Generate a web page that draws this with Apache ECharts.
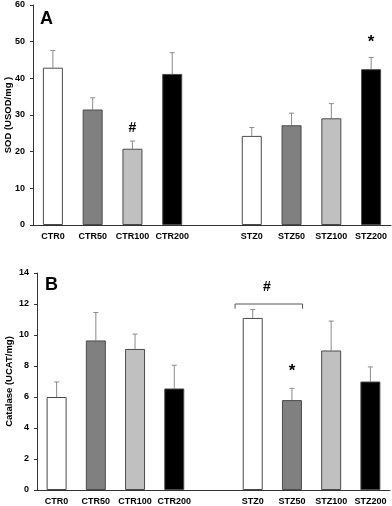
<!DOCTYPE html>
<html>
<head>
<meta charset="utf-8">
<script src="https://cdn.jsdelivr.net/npm/echarts@6/dist/echarts.min.js"></script>
<style>
  html, body { margin: 0; padding: 0; background: #fff; }
  #chart { width: 392px; height: 506px; }
</style>
</head>
<body>
<div id="chart"></div>
<script>
// groups (empty slot separates CTR and STZ)
const groups = ['CTR0', 'CTR50', 'CTR100', 'CTR200', '', 'STZ0', 'STZ50', 'STZ100', 'STZ200'];
const barColors = ['#ffffff', '#808080', '#c0c0c0', '#000000', null, '#ffffff', '#808080', '#c0c0c0', '#000000'];

// panel A: SOD (USOD/mg)
const sodMean = [42.9, 31.5, 20.8, 41.2, null, 24.3, 27.2, 29.1, 42.5];
const sodSd = [4.7, 3.2, 2.1, 5.8, null, 2.3, 3.3, 4.0, 3.2];
const sodTicks = { min: 0, max: 60, interval: 10 };
const sodMarks = [['CTR100', 26.3, '#'], ['STZ200', 49.9, '*']];

// panel B: Catalase (UCAT/mg)
const catMean = [6.0, 9.65, 9.1, 6.55, null, 11.1, 5.8, 9.0, 7.0];
const catSd = [0.97, 1.8, 0.96, 1.5, null, 0.55, 0.76, 1.9, 0.94];
const catTicks = { min: 0, max: 14, interval: 2 };
const catMarks = [['STZ50', 7.65, '*']];
// bracket: from group, to group, top value, end value, label, label value
const catBracket = [['STZ0', 'STZ50', 12.0, 11.7, '#', 13.1]];

const font = 'Arial, "Liberation Sans", sans-serif';

const myChart = echarts.init(document.getElementById('chart'), null, { renderer: 'canvas' });

function barData(vals) {
    return vals.map((v, i) => v == null ? null : {
        value: v,
        itemStyle: { color: barColors[i] }
    });
}

function errData(mean, sd) {
    return mean.map((v, i) => v == null ? null : [i, v, v + sd[i]]);
}

// upper error bar only
function renderErr(params, api) {
    const base = api.coord([api.value(0), api.value(1)]);
    const top = api.coord([api.value(0), api.value(2)]);
    const c = 2.5;
    return {
        type: 'group',
        children: [
            { type: 'line', shape: { x1: base[0], y1: base[1], x2: top[0], y2: top[1] }, style: { stroke: '#8a8a8a', lineWidth: 1 } },
            { type: 'line', shape: { x1: top[0] - c, y1: top[1], x2: top[0] + c, y2: top[1] }, style: { stroke: '#8a8a8a', lineWidth: 1 } }
        ]
    };
}

function markText(txt, x, y) {
    return {
        type: 'text', x: x, y: y,
        style: {
            text: txt, fill: '#000',
            font: 'bold ' + (txt === '*' ? 17 : 14) + 'px ' + font,
            align: 'center', verticalAlign: 'middle'
        }
    };
}

function renderMark(params, api) {
    const p = api.coord([api.value(0), api.value(1)]);
    return markText(api.value(2), p[0], p[1]);
}

function renderBracket(params, api) {
    const b = catBracket[params.dataIndex];
    const i0 = groups.indexOf(b[0]), i1 = groups.indexOf(b[1]);
    const a = api.coord([i0, b[2]]);
    const e = api.coord([i1, b[3]]);
    const t = api.coord([i0, b[5]]);
    const band = api.size([1, 0])[0];
    const x1 = a[0] - band * 0.45, x2 = e[0] + band * 0.27;
    return {
        type: 'group',
        children: [
            {
                type: 'polyline',
                shape: { points: [[x1, e[1]], [x1, a[1]], [x2, a[1]], [x2, e[1]]] },
                style: { stroke: '#555', lineWidth: 1, fill: null }
            },
            markText(b[4], (x1 + x2) / 2 - 2, t[1])
        ]
    };
}

function xAxisFor(gi) {
    return {
        type: 'category', gridIndex: gi, data: groups,
        axisLine: { lineStyle: { color: '#333', width: 1 } },
        axisTick: { show: false },
        axisLabel: { interval: 0, color: '#000', fontWeight: 'bold', fontSize: 9, fontFamily: font, margin: 7 }
    };
}

function yAxisFor(gi, ticks, name, gap) {
    return {
        type: 'value', gridIndex: gi,
        min: ticks.min, max: ticks.max, interval: ticks.interval,
        name: name, nameLocation: 'middle', nameGap: gap, nameRotate: 90,
        nameMoveOverlap: false,
        nameTextStyle: { color: '#000', fontWeight: 'bold', fontSize: 9.5, fontFamily: font },
        axisLine: { show: true, lineStyle: { color: '#333', width: 1 } },
        axisTick: { show: true, length: 3, lineStyle: { color: '#333' } },
        splitLine: { show: false },
        axisLabel: { color: '#000', fontWeight: 'bold', fontSize: 9, fontFamily: font, margin: 8 }
    };
}

const option = {
    backgroundColor: '#fff',
    animation: false,
    grid: [
        { left: 33, right: 1, top: 5, height: 220, outerBoundsMode: 'none', containLabel: false },
        { left: 37, right: 2, top: 273, height: 217, outerBoundsMode: 'none', containLabel: false }
    ],
    xAxis: [xAxisFor(0), xAxisFor(1)],
    yAxis: [
        yAxisFor(0, sodTicks, 'SOD (USOD/mg )', 20),
        yAxisFor(1, catTicks, 'Catalase (UCAT/mg)', 23)
    ],
    graphic: [
        { type: 'text', left: 40, top: 10, style: { text: 'A', font: 'bold 18px ' + font, fill: '#000' } },
        { type: 'text', left: 45, top: 276, style: { text: 'B', font: 'bold 18px ' + font, fill: '#000' } }
    ],
    series: [
        {
            type: 'bar', xAxisIndex: 0, yAxisIndex: 0, barWidth: 20,
            itemStyle: { borderColor: '#4a4a4a', borderWidth: 1 },
            data: barData(sodMean)
        },
        { type: 'custom', xAxisIndex: 0, yAxisIndex: 0, renderItem: renderErr, data: errData(sodMean, sodSd), z: 1 },
        { type: 'custom', xAxisIndex: 0, yAxisIndex: 0, renderItem: renderMark, data: sodMarks },
        {
            type: 'bar', xAxisIndex: 1, yAxisIndex: 1, barWidth: 20,
            itemStyle: { borderColor: '#4a4a4a', borderWidth: 1 },
            data: barData(catMean)
        },
        { type: 'custom', xAxisIndex: 1, yAxisIndex: 1, renderItem: renderErr, data: errData(catMean, catSd), z: 1 },
        { type: 'custom', xAxisIndex: 1, yAxisIndex: 1, renderItem: renderMark, data: catMarks },
        { type: 'custom', xAxisIndex: 1, yAxisIndex: 1, renderItem: renderBracket, data: catBracket.map(b => [groups.indexOf(b[0]), b[2]]) }
    ]
};

myChart.setOption(option);
</script>
</body>
</html>
